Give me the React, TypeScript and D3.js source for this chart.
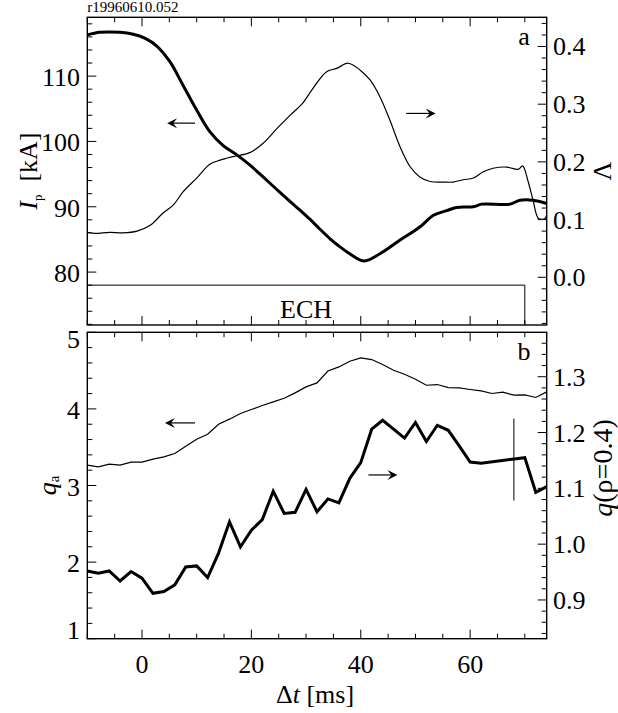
import React from "react";
import * as d3 from "d3";

// ---------- data ----------
const tIp = [-10, -7.7, -4, -1.6, 0.5, 2.7, 5.1, 7.5, 10, 12.4, 14.8, 17.4, 19.7, 22.1, 24.7, 27.1, 29, 30.7, 32.5, 34.4, 36, 38, 40.5, 43.5, 47.2, 50.8, 53.3, 55.7, 57.5, 60.6, 62.1, 67.3, 69.1, 71.5, 74];
const ipValues = [116.3, 116.7, 116.7, 116.4, 115.8, 114.6, 112.2, 108.6, 104.8, 101.5, 99.4, 97.9, 96.4, 94.6, 92.6, 90.8, 89.4, 88.1, 86.6, 85.1, 84.0, 82.8, 81.7, 82.8, 84.9, 86.9, 88.7, 89.4, 89.9, 90.0, 90.4, 90.4, 91.0, 91.0, 90.5];

const tLambda = [-10, -8.6, -5.9, -3.5, -0.9, 1.5, 3.8, 5.7, 7.5, 10, 12.4, 14.3, 16.6, 19.7, 22.1, 24.7, 27.1, 29.4, 31.3, 33.7, 35.6, 37.7, 39.9, 41.7, 43.5, 45.3, 47.2, 49, 50.8, 52.7, 55.1, 56.9, 58.7, 60.6, 62.4, 64.2, 66.7, 68.8, 69.6, 70.6, 71.5, 72.5, 73.7, 74];
const lambdaValues = [0.078, 0.076, 0.078, 0.077, 0.080, 0.090, 0.111, 0.125, 0.148, 0.172, 0.196, 0.203, 0.209, 0.216, 0.232, 0.258, 0.281, 0.302, 0.328, 0.356, 0.362, 0.371, 0.359, 0.342, 0.313, 0.273, 0.226, 0.192, 0.174, 0.166, 0.165, 0.165, 0.169, 0.172, 0.183, 0.189, 0.191, 0.187, 0.193, 0.166, 0.134, 0.102, 0.102, 0.108];

const tQa = [-10, -8, -6, -4, -2, 0, 2, 4, 6, 8, 10, 12, 14, 16, 18, 20, 22, 24, 26, 28, 30, 32, 34, 36, 38, 40, 42, 44, 46, 48, 50, 52, 54, 56, 58, 60, 62, 64, 66, 68, 70, 72, 74];
const qaValues = [3.266, 3.244, 3.279, 3.266, 3.305, 3.305, 3.344, 3.374, 3.418, 3.514, 3.605, 3.670, 3.800, 3.866, 3.940, 3.992, 4.044, 4.091, 4.139, 4.209, 4.287, 4.339, 4.495, 4.548, 4.622, 4.665, 4.644, 4.579, 4.505, 4.452, 4.387, 4.309, 4.318, 4.279, 4.274, 4.253, 4.235, 4.201, 4.218, 4.179, 4.183, 4.149, 4.222];

const tQ04 = [-10, -8, -6, -4, -2, 0, 2, 4, 6, 8, 10, 12, 14, 16, 18, 20, 22, 24, 26, 28, 30, 32, 34, 36, 38, 40, 42, 44, 46, 48, 50, 52, 54, 56, 58, 60, 62, 70, 72, 74];
const q04Values = [0.952, 0.948, 0.952, 0.934, 0.951, 0.939, 0.912, 0.915, 0.927, 0.959, 0.961, 0.940, 0.984, 1.040, 0.995, 1.025, 1.044, 1.095, 1.055, 1.057, 1.098, 1.058, 1.081, 1.074, 1.118, 1.146, 1.206, 1.222, 1.206, 1.190, 1.218, 1.184, 1.213, 1.204, 1.176, 1.147, 1.145, 1.155, 1.093, 1.103];

// ECH pulse window [start, end] and level (in kA units of the left axis)
const echWindow = [-12, 70];
const echLevel = 78;

// error bar on q(rho=0.4)
const errBarT = 68;
const errBarRange = [1.078, 1.225];

// tick labels
const xTickLabels = [0, 20, 40, 60];
const ipTickLabels = [80, 90, 100, 110];
const lambdaTickLabels = [0.0, 0.1, 0.2, 0.3, 0.4];
const qaTickLabels = [1, 2, 3, 4, 5];
const q04TickLabels = [0.9, 1.0, 1.1, 1.2, 1.3];

const title = "r19960610.052";

// ---------- layout ----------
const W = 618, H = 713;
const L = 87.3, R = 546.7;
const aTop = 17.3, aBot = 325;
const bTop = 332.3, bBot = 638.7;
const FONT = "Liberation Serif, Times New Roman, Times, serif";
const FS = 26;

const x = d3.scaleLinear().domain([-10, 74]).range([L, R]);
const yIp = d3.scaleLinear().domain([71.9, 119]).range([aBot, aTop]);
const yLam = d3.scaleLinear().domain([-0.0827, 0.4506]).range([aBot, aTop]);
const yQa = d3.scaleLinear().domain([1, 5]).range([bBot, bTop]);
const yQ04 = d3.scaleLinear().domain([0.8306, 1.3796]).range([bBot, bTop]);

const range = (a: number, b: number, s: number) => {
  const out: number[] = [];
  for (let v = a; v <= b + 1e-9; v += s) out.push(+v.toFixed(6));
  return out;
};

function mkLine(ts: number[], vs: number[], ys: d3.ScaleLinear<number, number>, smooth: boolean) {
  const g = d3.line<number>().x((_, i) => x(ts[i])).y((v) => ys(v));
  if (smooth) g.curve(d3.curveCatmullRom.alpha(0.5));
  return g(vs) || "";
}

function Arrow({ x1, x2, y }: { x1: number; x2: number; y: number }) {
  const dir = Math.sign(x2 - x1);
  const hl = 10, hw = 5;
  const head = `M${x2},${y} L${x2 - dir * hl},${y - hw} L${x2 - dir * hl * 0.6},${y} L${x2 - dir * hl},${y + hw} Z`;
  return (
    <g>
      <line x1={x1} x2={x2 - dir * 4} y1={y} y2={y} stroke="#000" strokeWidth={1.2} />
      <path d={head} fill="#000" />
    </g>
  );
}

function Frame({ top, bot, yl, yr, lMinor, rMinor }: any) {
  const els: any[] = [];
  const xMajor = range(0, 60, 20);
  const xMinor = range(-10, 70, 5);
  xMinor.forEach((t, i) => {
    const len = xMajor.includes(t) ? 9 : 5;
    els.push(<line key={"xb" + i} x1={x(t)} x2={x(t)} y1={bot} y2={bot - len} stroke="#000" strokeWidth={1} />);
    els.push(<line key={"xt" + i} x1={x(t)} x2={x(t)} y1={top} y2={top + len} stroke="#000" strokeWidth={1} />);
  });
  lMinor.vals.forEach((v: number, i: number) => {
    const len = lMinor.major.some((m: number) => Math.abs(m - v) < 1e-6) ? 9 : 5;
    els.push(<line key={"yl" + i} x1={L} x2={L + len} y1={yl(v)} y2={yl(v)} stroke="#000" strokeWidth={1} />);
  });
  rMinor.vals.forEach((v: number, i: number) => {
    const len = rMinor.major.some((m: number) => Math.abs(m - v) < 1e-6) ? 9 : 5;
    els.push(<line key={"yr" + i} x1={R} x2={R - len} y1={yr(v)} y2={yr(v)} stroke="#000" strokeWidth={1} />);
  });
  els.push(<rect key="box" x={L} y={top} width={R - L} height={bot - top} fill="none" stroke="#000" strokeWidth={1.4} />);
  return <g>{els}</g>;
}

export default function App() {
  const ipPath = mkLine(tIp, ipValues, yIp, true);
  const lamPath = mkLine(tLambda, lambdaValues, yLam, true);
  const qaPath = mkLine(tQa, qaValues, yQa, false);
  const q04Path = mkLine(tQ04, q04Values, yQ04, false);

  const echX0 = Math.max(x(echWindow[0]), L);
  const echX1 = x(echWindow[1]);

  return (
    <svg width={W} height={H} style={{ position: "absolute", left: 0, top: 0, background: "#fff", fontFamily: FONT }}>
      <rect x={0} y={0} width={W} height={H} fill="#fff" />
      <defs>
        <clipPath id="clipA"><rect x={L} y={aTop} width={R - L} height={aBot - aTop} /></clipPath>
        <clipPath id="clipB"><rect x={L} y={bTop} width={R - L} height={bBot - bTop} /></clipPath>
      </defs>

      <text x={L} y={12} fontSize={15}>{title}</text>

      {/* Panel a */}
      <g clipPath="url(#clipA)">
        <path d={`M${echX0},${aBot} L${echX0},${yIp(echLevel)} L${echX1},${yIp(echLevel)} L${echX1},${aBot}`} fill="none" stroke="#000" strokeWidth={1} />
        <path d={lamPath} fill="none" stroke="#000" strokeWidth={1.2} />
        <path d={ipPath} fill="none" stroke="#000" strokeWidth={3} strokeLinejoin="round" />
      </g>
      <text x={(L + echX1) / 2} y={318} fontSize={FS} textAnchor="middle">ECH</text>
      <Arrow x1={x(9.7)} x2={x(4.6)} y={yIp(102.8)} />
      <Arrow x1={x(48.3)} x2={x(53.7)} y={yLam(0.284)} />
      <text x={524} y={45} fontSize={FS} textAnchor="middle">a</text>
      <Frame top={aTop} bot={aBot} yl={yIp} yr={yLam}
        lMinor={{ vals: range(72, 118, 2), major: ipTickLabels }}
        rMinor={{ vals: range(-0.08, 0.44, 0.02), major: lambdaTickLabels }} />
      {ipTickLabels.map((v) => (
        <text key={"ipl" + v} x={80} y={yIp(v) + 10} fontSize={FS} textAnchor="end">{v}</text>
      ))}
      {lambdaTickLabels.map((v) => (
        <text key={"laml" + v} x={553} y={yLam(v) + 9} fontSize={FS}>{v.toFixed(1)}</text>
      ))}
      <text transform={`translate(37,${(aTop + aBot) / 2}) rotate(-90)`} fontSize={FS} textAnchor="middle">
        <tspan fontStyle="italic">I</tspan>
        <tspan fontSize={13} dy={5}>p</tspan>
        <tspan dy={-5}>{"\u00a0\u00a0[kA]"}</tspan>
      </text>
      <text transform={`translate(611,${(aTop + aBot) / 2}) rotate(-90)`} fontSize={FS} textAnchor="middle">Λ</text>

      {/* Panel b */}
      <g clipPath="url(#clipB)">
        <path d={qaPath} fill="none" stroke="#000" strokeWidth={1.2} />
        <path d={q04Path} fill="none" stroke="#000" strokeWidth={3} strokeLinejoin="miter" />
        <line x1={x(errBarT)} x2={x(errBarT)} y1={yQ04(errBarRange[0])} y2={yQ04(errBarRange[1])} stroke="#000" strokeWidth={1} />
      </g>
      <Arrow x1={x(9.7)} x2={x(4.2)} y={yQa(3.817)} />
      <Arrow x1={x(41.4)} x2={x(46.7)} y={yQ04(1.124)} />
      <text x={524} y={360} fontSize={FS} textAnchor="middle">b</text>
      <Frame top={bTop} bot={bBot} yl={yQa} yr={yQ04}
        lMinor={{ vals: range(1, 5, 0.2), major: qaTickLabels }}
        rMinor={{ vals: range(0.84, 1.36, 0.02), major: q04TickLabels }} />
      {qaTickLabels.map((v, i) => {
        const off = i === 0 ? 0 : i === qaTickLabels.length - 1 ? 16 : 10;
        return <text key={"qal" + v} x={80} y={yQa(v) + off} fontSize={FS} textAnchor="end">{v}</text>;
      })}
      {q04TickLabels.map((v) => (
        <text key={"q04l" + v} x={553} y={yQ04(v) + 9} fontSize={FS}>{v.toFixed(1)}</text>
      ))}
      <text transform={`translate(56,${(bTop + bBot) / 2}) rotate(-90)`} fontSize={FS} textAnchor="middle">
        <tspan fontStyle="italic">q</tspan>
        <tspan fontSize={15} dy={3}>a</tspan>
      </text>
      <text transform={`translate(612,${468}) rotate(-90)`} fontSize={28} textAnchor="middle">
        <tspan fontStyle="italic">q</tspan>
        <tspan>(ρ=0.4)</tspan>
      </text>

      {/* x axis labels */}
      {xTickLabels.map((v) => (
        <text key={"xl" + v} x={x(v)} y={673} fontSize={FS} textAnchor="middle">{v}</text>
      ))}
      <text x={315} y={703} fontSize={FS} textAnchor="middle">
        <tspan>Δ</tspan>
        <tspan fontStyle="italic">t</tspan>
        <tspan>{" [ms]"}</tspan>
      </text>
    </svg>
  );
}
